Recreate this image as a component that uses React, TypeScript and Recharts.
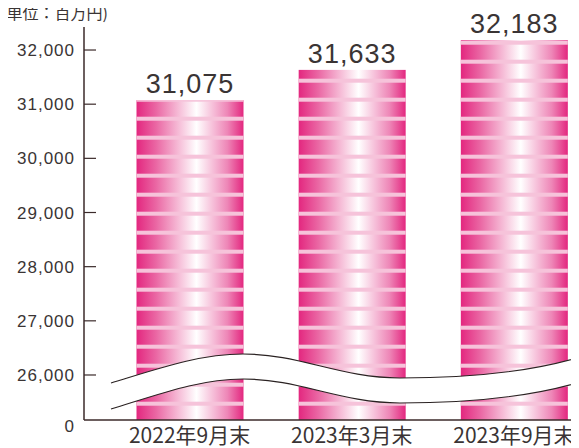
import React from 'react'
import { BarChart, Bar, XAxis, YAxis, LabelList } from 'recharts'

const categories = ['2022年9月末', '2023年3月末', '2023年9月末']
const values = [31075, 31633, 32183]
const yTicks = [25169, 26000, 27000, 28000, 29000, 30000, 31000, 32000]
const breakTick = 25169
const unitLabel = '(単位：百万円)'

const data = categories.map((name, i) => ({ name, value: values[i] }))

const JP_FONT = '"Noto Sans CJK JP", "Noto Sans", sans-serif'
const NUM_FONT = '"Liberation Sans", Arial, sans-serif'
const INK = '#3a3434'
const AXIS = '#3b2a2a'

const StripedBar = (props: any) => {
  const { x, y, width, height } = props
  const bottom = y + height
  const stripes = []
  for (let s = bottom - 18.3; s + 4 > y; s -= 19) {
    const top = Math.max(s, y)
    stripes.push(
      <rect key={s} x={x} y={top} width={width} height={s + 4 - top} fill="#f6c3da" />
    )
  }
  return (
    <g>
      <rect x={x} y={y} width={width} height={height} fill="url(#barGrad)" />
      {stripes}
    </g>
  )
}

const YTick = (props: any) => {
  const { x, y, payload } = props
  const isBreak = payload.value === breakTick
  return (
    <g>
      {!isBreak && <line x1={x} x2={x + 12} y1={y} y2={y} stroke={AXIS} strokeWidth={1.2} />}
      <text
        x={x - 9}
        y={y}
        dy={isBreak ? 12 : 6}
        textAnchor="end"
        fill={INK}
        fontSize={17}
        letterSpacing={1}
        fontFamily={NUM_FONT}
      >
        {isBreak ? '0' : payload.value.toLocaleString('en-US')}
      </text>
    </g>
  )
}

// 波線（省略記号）と単位表記を上に重ねる
const BreakOverlay = () => {
  const upper = 'M111,383 C160,368 200,354 243,354 C300,354 340,378 400,378 C470,378 530,372 580,357'
  const lower = 'M111,409 C160,394 200,379 243,379 C300,379 340,403 400,403 C470,403 530,397 580,382'
  const band = upper + ' L580,382 C530,397 470,403 400,403 C340,403 300,379 243,379 C200,379 160,394 111,409 Z'
  return (
    <svg width={579} height={448} style={{ position: 'absolute', left: 0, top: 0, pointerEvents: 'none' }}>
      <path d={band} fill="#fff" />
      <path d={upper} fill="none" stroke="#2a2222" strokeWidth={1.2} />
      <path d={lower} fill="none" stroke="#2a2222" strokeWidth={1.2} />
      <text x={1} y={19} fontSize={16} fill={INK} fontFamily={JP_FONT}>
        {unitLabel}
      </text>
    </svg>
  )
}

export default function App() {
  return (
    <div style={{ marginLeft: -8, marginTop: -8, width: 579, height: 448, overflow: 'hidden', position: 'relative', background: '#fff' }}>
      <BarChart
        width={595}
        height={448}
        data={data}
        margin={{ top: 27, right: 0, bottom: 0, left: 0 }}
        barSize={107}
      >
        <defs>
          <linearGradient id="barGrad" x1="0" y1="0" x2="1" y2="0">
            <stop offset="0%" stopColor="#e3277f" />
            <stop offset="18%" stopColor="#ea66a3" />
            <stop offset="56%" stopColor="#ffffff" />
            <stop offset="85%" stopColor="#ee86b7" />
            <stop offset="100%" stopColor="#e3277f" />
          </linearGradient>
        </defs>
        <XAxis
          dataKey="name"
          height={28}
          padding={{ left: 24.5, right: 0 }}
          axisLine={{ stroke: AXIS, strokeWidth: 1.5 }}
          tickLine={false}
          tickSize={0}
          tickMargin={8}
          tick={{ fill: INK, fontSize: 21, fontFamily: JP_FONT }}
          interval={0}
        />
        <YAxis
          width={84}
          domain={[25169, 32425]}
          ticks={yTicks}
          allowDataOverflow
          axisLine={{ stroke: AXIS, strokeWidth: 1.5 }}
          tickLine={false}
          tickSize={0}
          tickMargin={0}
          tick={<YTick />}
          interval={0}
        />
        <Bar dataKey="value" shape={<StripedBar />} isAnimationActive={false}>
          <LabelList
            dataKey="value"
            position="top"
            offset={7}
            formatter={(v: any) => Number(v).toLocaleString('en-US')}
            style={{ fill: INK, fontSize: 27, fontFamily: NUM_FONT, letterSpacing: 1 }}
          />
        </Bar>
      </BarChart>
      <BreakOverlay />
    </div>
  )
}
